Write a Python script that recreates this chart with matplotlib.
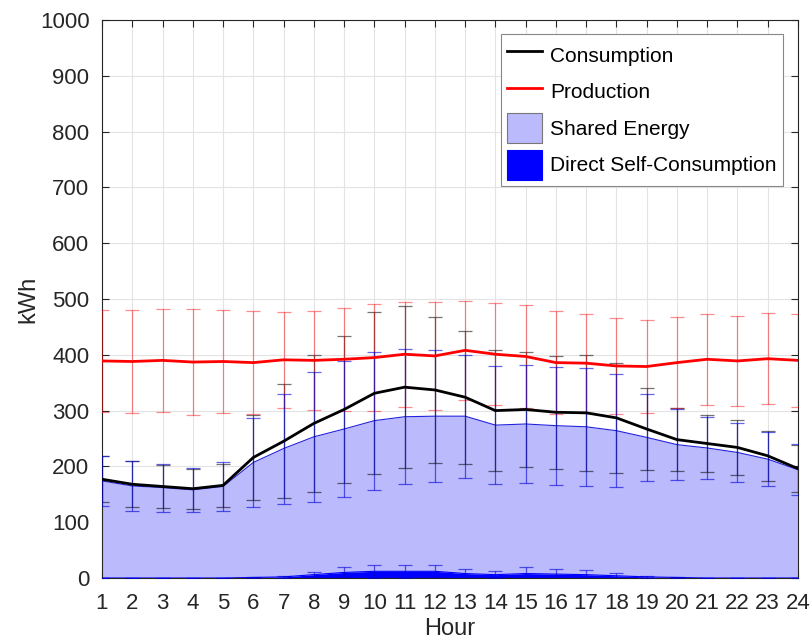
import matplotlib
matplotlib.use("Agg")
import matplotlib.pyplot as plt
from matplotlib.lines import Line2D
from matplotlib.patches import Patch
import numpy as np

plt.rcParams['font.family'] = ['Liberation Sans', 'DejaVu Sans']

hours = list(range(1, 25))
hour_labels = [str(h) for h in hours]

consumption = [177, 168, 164, 160, 166, 216, 245, 277, 302, 331, 342, 337,
               324, 300, 302, 297, 296, 287, 267, 248, 241, 234, 219, 196]
consumption_std = [41, 41, 39, 36, 39, 76, 102, 122, 131, 145, 145, 131,
                   119, 109, 103, 101, 104, 98, 73, 56, 51, 49, 45, 42]

production = [389, 388, 390, 387, 388, 386, 391, 390, 392, 395, 401, 398,
              408, 401, 397, 386, 385, 380, 379, 386, 392, 389, 393, 390]
production_std = [92, 92.5, 92, 94.5, 92.5, 92, 86, 89, 92.5, 96, 94.5, 96.5,
                  89, 91, 92.5, 92, 89, 86.5, 83, 81.5, 82, 80, 82, 83.5]

direct_self = [0, 0, 0, 0, 0, 1, 2, 6, 10, 12, 12, 12,
               8, 6, 8, 7, 6, 4, 2, 1, 0, 0, 0, 0]
direct_std = [0, 0, 0, 0, 0, 1, 2, 4, 9, 12, 12, 11,
              9, 6, 11, 10, 8, 5, 2, 1, 0, 0, 0, 0]

shared = [174, 165, 162, 158, 164, 206, 230, 247, 257, 270, 277, 278,
          282, 268, 268, 266, 265, 260, 250, 238, 233, 225, 213, 194]
shared_std = [44.5, 44.5, 43, 40, 43.5, 79.5, 98.5, 117, 122.5, 123.5, 120.5, 118,
              110.5, 105.5, 106, 105.5, 106, 101.5, 77.5, 63.5, 56, 53.5, 49, 45.5]

W, H = 811, 641
fig = plt.figure(figsize=(W / 100, H / 100), dpi=100)
ax = fig.add_axes([102 / W, 1 - 578 / H, (798 - 102) / W, (578 - 20) / H])

x = np.array(hours)
d = np.array(direct_self, dtype=float)
s_top = d + np.array(shared, dtype=float)

light = (0.73, 0.73, 0.99)
ax.fill_between(x, d, s_top, color=light, lw=0, zorder=1)
ax.plot(x, s_top, color='#2222dd', lw=0.8, zorder=2)
ax.fill_between(x, 0, d, color='#0000ff', lw=0, zorder=2)
ax.plot(x, d, color='#0000ff', lw=0.8, zorder=2)

ekw = dict(fmt='none', capsize=5, elinewidth=0.9, capthick=0.9, zorder=3)
ax.errorbar(x, consumption, yerr=consumption_std, ecolor=(0, 0, 0, 0.55), **ekw)
ax.errorbar(x, production, yerr=production_std, ecolor=(1, 0, 0, 0.45), **ekw)
ax.errorbar(x, s_top, yerr=shared_std, ecolor=(0, 0, 0.85, 0.6), **ekw)
ax.errorbar(x, d, yerr=direct_std, ecolor=(0, 0, 0.85, 0.6), **ekw)

ax.plot(x, consumption, color='black', lw=2, zorder=4)
ax.plot(x, production, color='red', lw=2, zorder=4)

ax.set_xlim(1, 24)
ax.set_ylim(0, 1000)
ax.set_xticks(hours)
ax.set_xticklabels(hour_labels)
ax.set_yticks(np.arange(0, 1001, 100))
ax.grid(True, color='#e3e3e3', lw=0.8, zorder=0)
ax.set_axisbelow(True)
ax.tick_params(direction='in', length=5, width=0.8, colors='#262626',
               top=True, right=True, labelsize=16)
ax.tick_params(axis='x', pad=11)
ax.tick_params(axis='y', pad=9)
for sp in ax.spines.values():
    sp.set_color('#262626')
    sp.set_linewidth(0.8)

fig.text(28 / W, 1 - 299 / H, 'kWh', rotation=90, ha='center', va='center',
         fontsize=17, color='#262626')
fig.text(450 / W, 1 - 629 / H, 'Hour', ha='center', va='center',
         fontsize=17, color='#262626')

handles = [
    Line2D([], [], color='black', lw=2),
    Line2D([], [], color='red', lw=2),
    Patch(facecolor=light, edgecolor='#777777', lw=0.8),
    Patch(facecolor='#0000ff', edgecolor='#0000ff', lw=0.8),
]
labels = ['Consumption', 'Production', 'Shared Energy', 'Direct Self-Consumption']
leg = ax.legend(handles, labels, loc='upper right',
                bbox_to_anchor=(783 / W, 1 - 34 / H), bbox_transform=fig.transFigure,
                borderaxespad=0, fontsize=15, handlelength=1.68, handleheight=1.84,
                labelspacing=0.31, handletextpad=0.38, borderpad=0.3,
                fancybox=False, framealpha=1, edgecolor='#888888')
leg.get_frame().set_linewidth(0.8)

fig.savefig('out.png', dpi=100)
